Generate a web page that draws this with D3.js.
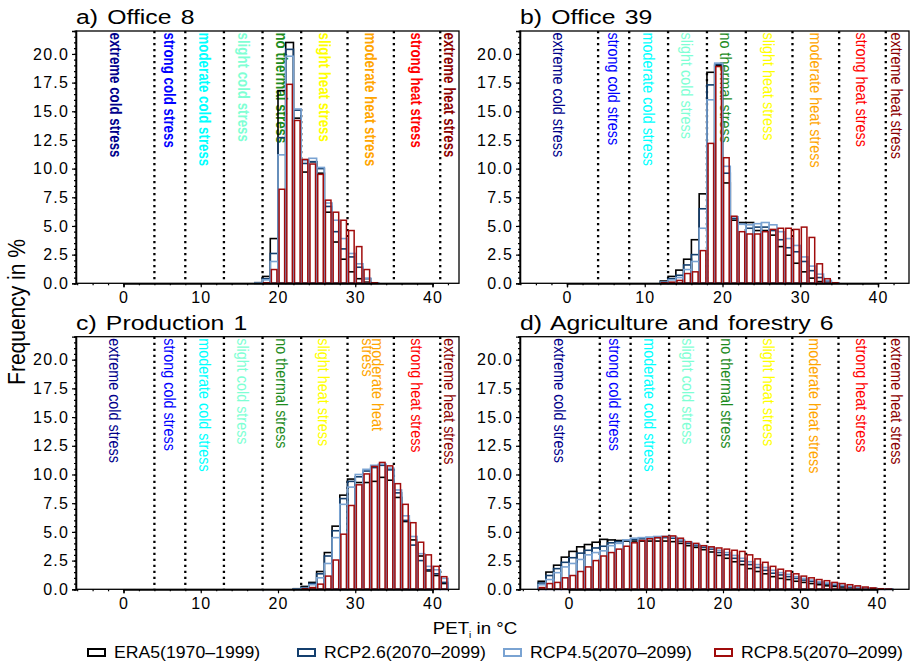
<!DOCTYPE html>
<html>
<head>
<meta charset="utf-8">
<script src="https://cdn.jsdelivr.net/npm/d3@7"></script>
<style>
body { margin: 0; background: #fff; }
text { font-family: "Liberation Sans", Arial, sans-serif; }
</style>
</head>
<body>
<script>
// bins are 1 degree wide, start values below
var binStart = [-4,-3,-2,-1,0,1,2,3,4,5,6,7,8,9,10,11,12,13,14,15,16,17,18,19,20,
                21,22,23,24,25,26,27,28,29,30,31,32,33,34,35,36,37,38,39,40,41];

var seriesNames = ["ERA5(1970\u20131999)", "RCP2.6(2070\u20132099)", "RCP4.5(2070\u20132099)", "RCP8.5(2070\u20132099)"];
var seriesColors = ["#000000", "#143f6e", "#7aa3d2", "#a00c0c"];

var classBreaks = [4, 8, 13, 18, 23, 29, 35, 41];
var classNames = ["extreme cold stress", "strong cold stress", "moderate cold stress", "slight cold stress",
                  "no thermal stress", "slight heat stress", "moderate heat stress", "strong heat stress",
                  "extreme heat stress"];
var classColors = ["#00008b", "#0000ff", "#00ffff", "#7fffd4", "#1e8c1e", "#ffff00", "#ffa500", "#ff0000", "#8b0000"];

var yTicks = [0, 2.5, 5, 7.5, 10, 12.5, 15, 17.5, 20];
var xTicks = [0, 10, 20, 30, 40];

var panelTitles = ["a) Office 8", "b) Office 39", "c) Production 1", "d) Agriculture and forestry 6"];

// frequency in % per bin (ERA5, RCP2.6, RCP4.5, RCP8.5)
var office8Era = [0,0,0,0,0,0,0,0,0,0,0,0,0,0,0,0,0,0,0,0,0,
                  0.05,0.6,3.9,16.8,21.0,14.4,9.7,10.6,9.6,6.2,3.6,2.1,1.0,0.4,0.1,0,0,0,0,0,0,0,0,0,0];
var office8R26 = [0,0,0,0,0,0,0,0,0,0,0,0,0,0,0,0,0,0,0,0,0,
                  0.05,0.4,2.6,12.7,20.4,15.1,10.45,10.6,10.0,6.7,4.5,3.0,2.3,1.4,0.4,0.03,0,0,0,0,0,0,0,0,0];
var office8R45 = [0,0,0,0,0,0,0,0,0,0,0,0,0,0,0,0,0,0,0,0,0,
                  0.03,0.3,1.9,11.2,19.8,15.2,10.7,10.9,10.1,7.0,5.5,3.9,2.6,1.7,0.45,0.03,0,0,0,0,0,0,0,0,0];
var office8R85 = [0,0,0,0,0,0,0,0,0,0,0,0,0,0,0,0,0,0,0,0,0,
                  0,0.05,1.2,8.2,17.35,14.2,10.8,10.4,9.5,7.25,6.2,5.5,4.6,3.2,1.2,0.05,0,0,0,0,0,0,0,0,0];

var office39Era = [0,0,0,0,0,0,0,0,0,0,0,0,0,0,0,0,
                   0.2,0.6,1.15,2.1,3.8,7.8,18.4,19.0,8.75,5.5,5.3,5.3,4.6,4.6,4.2,3.2,2.45,1.75,1.0,0.45,0.15,0.05,0,0,0,0,0,0,0,0];
var office39R26 = [0,0,0,0,0,0,0,0,0,0,0,0,0,0,0,0,
                   0.1,0.4,0.7,1.6,2.5,6.5,17.3,19.1,9.6,5.65,5.15,4.8,4.9,4.9,4.6,3.8,3.1,2.75,1.9,1.1,0.5,0.1,0.02,0,0,0,0,0,0,0];
var office39R45 = [0,0,0,0,0,0,0,0,0,0,0,0,0,0,0,0,
                   0.1,0.3,0.5,1.2,1.9,4.8,16.0,19.2,10.2,5.8,5.15,5.1,5.2,5.3,5.1,4.5,3.9,3.3,2.3,1.5,0.8,0.25,0.03,0,0,0,0,0,0,0];
var office39R85 = [0,0,0,0,0,0,0,0,0,0,0,0,0,0,0,0,
                   0.05,0.1,0.25,0.85,1.0,2.85,12.2,18.9,10.95,5.85,4.5,4.3,4.3,4.5,4.7,4.8,4.8,4.7,4.9,4.0,1.7,0.4,0.05,0,0,0,0,0,0,0];

var production1Era = [0,0,0,0,0,0,0,0,0,0,0,0,0,0,0,0,0,0,0,0,0,0,0,0,0,0,
                      0.05,0.25,0.6,1.55,3.2,5.5,8.2,9.6,9.3,9.3,9.4,9.75,9.5,8.0,5.9,4.3,2.9,1.6,1.2,0.5];
var production1R26 = [0,0,0,0,0,0,0,0,0,0,0,0,0,0,0,0,0,0,0,0,0,0,0,0,0,0,
                      0.03,0.15,0.5,1.35,2.9,5.1,7.9,9.4,9.8,10.3,10.6,10.8,10.4,8.4,6.0,3.85,2.5,1.7,1.35,0.6];
var production1R45 = [0,0,0,0,0,0,0,0,0,0,0,0,0,0,0,0,0,0,0,0,0,0,0,0,0,0,
                      0.02,0.1,0.4,1.0,2.25,4.5,7.4,8.9,10.0,10.45,10.8,10.9,10.55,8.65,6.4,4.6,3.1,2.0,1.7,0.95];
var production1R85 = [0,0,0,0,0,0,0,0,0,0,0,0,0,0,0,0,0,0,0,0,0,0,0,0,0,0,
                      0,0.05,0.15,0.45,1.15,2.55,4.8,7.3,9.1,10.05,10.7,11.05,10.75,9.2,7.4,5.8,4.1,3.0,2.0,1.1];

var agriculture6Era = [0.7,1.5,2.1,2.8,3.3,3.7,3.9,4.1,4.35,4.3,4.25,4.2,4.2,4.2,4.2,4.2,4.2,4.15,4.0,3.8,3.65,3.45,3.25,
                       2.95,2.7,2.4,2.15,1.8,1.55,1.35,1.1,0.95,0.85,0.7,0.6,0.5,0.4,0.3,0.25,0.2,0.15,0.1,0.07,0.05,0.03,0.02];
var agriculture6R26 = [0.55,1.2,1.8,2.35,2.75,3.15,3.4,3.6,3.75,4.05,4.15,4.25,4.35,4.4,4.45,4.5,4.5,4.45,4.2,4.0,3.8,3.65,3.5,
                       3.2,3.0,2.7,2.45,2.15,1.9,1.65,1.4,1.25,1.1,0.95,0.8,0.7,0.55,0.45,0.35,0.28,0.2,0.14,0.09,0.06,0.03,0.01];
var agriculture6R45 = [0.4,0.85,1.45,1.95,2.25,2.6,3.0,3.2,3.35,3.8,4.0,4.3,4.45,4.5,4.55,4.6,4.6,4.55,4.3,4.1,3.9,3.75,3.6,
                       3.4,3.2,2.95,2.7,2.4,2.15,1.9,1.65,1.45,1.3,1.1,0.95,0.8,0.65,0.55,0.45,0.35,0.25,0.18,0.12,0.07,0.04,0.02];
var agriculture6R85 = [0.15,0.5,0.6,1.0,1.2,1.55,1.95,2.5,2.9,3.2,3.5,3.75,4.05,4.25,4.4,4.5,4.6,4.65,4.45,4.15,4.0,3.8,3.7,
                       3.6,3.5,3.4,3.3,3.0,2.65,2.35,2.0,1.75,1.6,1.35,1.15,1.0,0.85,0.75,0.6,0.5,0.4,0.3,0.2,0.12,0.05,0.02];

var panelData = [
  [office8Era, office8R26, office8R45, office8R85],
  [office39Era, office39R26, office39R45, office39R85],
  [production1Era, production1R26, production1R45, production1R85],
  [agriculture6Era, agriculture6R26, agriculture6R45, agriculture6R85]
];

// pixel layout of the four panels
var panels = [
  {left: 76,  right: 459, top: 31,    bottom: 283.3, x0: 123.5, x40: 432.5, bold: true},
  {left: 520, right: 909, top: 31,    bottom: 283.3, x0: 567,   x40: 878,   bold: false},
  {left: 76,  right: 459, top: 336.7, bottom: 589.3, x0: 123.5, x40: 432.5, bold: false},
  {left: 520, right: 909, top: 336.7, bottom: 589.3, x0: 569,   x40: 877,   bold: false}
];

var svg = d3.select("body")
    .append("svg")
    .attr("width", 919)
    .attr("height", 663);

panels.forEach(function(p, pi) {

    var x = d3.scaleLinear().domain([0, 40]).range([p.x0, p.x40]);
    var xMin = x.invert(p.left), xMax = x.invert(p.right);
    var y = d3.scaleLinear().domain([0, 22]).range([p.bottom, p.top]);

    var g = svg.append("g");

    // title
    g.append("text")
        .attr("transform", "translate(" + p.left + "," + (p.top - 7) + ") scale(1.18,1)")
        .style("font-size", "21px")
        .style("word-spacing", "2px")
        .text(panelTitles[pi]);

    // class boundaries
    g.selectAll(".brk")
        .data(classBreaks)
        .enter().append("line")
        .attr("x1", function(d) { return x(d); })
        .attr("x2", function(d) { return x(d); })
        .attr("y1", p.top)
        .attr("y2", p.bottom)
        .style("stroke", "#000")
        .style("stroke-width", 2.3)
        .style("stroke-dasharray", "2.3,3.7");

    // class labels, centred in each class range
    var edges = [xMin].concat(classBreaks).concat([xMax]);
    classNames.forEach(function(name, ci) {
        var cx = x((edges[ci] + edges[ci + 1]) / 2);
        var lines = (pi === 2 && ci === 6) ? ["moderate heat", "stress"] : [name];
        var t = g.append("text")
            .attr("transform", "translate(" + cx + "," + (p.top + 1.5) + ") scale(1.2,1) rotate(90)")
            .style("font-size", p.bold ? "13.3px" : "14.4px")
            .style("font-weight", p.bold ? "bold" : "normal")
            .style("fill", classColors[ci]);
        lines.forEach(function(l, li) {
            t.append("tspan")
                .attr("x", 0)
                .attr("y", (lines.length === 1 ? 0.35 : (li === 0 ? -0.1 : 0.52)) + "em")
                .text(l);
        });
    });

    // histogram outlines
    panelData[pi].forEach(function(vals, si) {
        var inset = si === 3 ? 1.1 : 0;
        g.selectAll(".bar" + si)
            .data(vals)
            .enter().append("rect")
            .attr("x", function(d, i) { return x(binStart[i]) + inset; })
            .attr("width", function(d, i) { return x(binStart[i] + 1) - x(binStart[i]) - 2 * inset; })
            .attr("y", function(d) { return y(d); })
            .attr("height", function(d) { return y(0) - y(d); })
            .style("fill", "none")
            .style("stroke", seriesColors[si])
            .style("stroke-width", si === 3 ? 1.5 : 1.6);
    });

    // frame
    g.append("rect")
        .attr("x", p.left).attr("y", p.top)
        .attr("width", p.right - p.left).attr("height", p.bottom - p.top)
        .style("fill", "none").style("stroke", "#000").style("stroke-width", 1.3);

    // y axis
    var yAxis = d3.axisLeft(y).tickValues(yTicks).tickSize(4).tickPadding(3)
        .tickFormat(d3.format(".1f"));
    var ya = g.append("g").attr("transform", "translate(" + p.left + ",0)").call(yAxis);
    var yMinor = d3.axisLeft(y).tickValues(d3.range(0, 22.01, 0.5)).tickSize(2).tickFormat("");
    g.append("g").attr("transform", "translate(" + p.left + ",0)").call(yMinor);

    // x axis
    var xAxis = d3.axisBottom(x).tickValues(xTicks).tickSize(4).tickPadding(4).tickFormat(d3.format("d"));
    var xa = g.append("g").attr("transform", "translate(0," + p.bottom + ")").call(xAxis);
    var xMinor = d3.axisBottom(x).tickValues(d3.range(-6, 43, 2)).tickSize(2).tickFormat("");
    g.append("g").attr("transform", "translate(0," + p.bottom + ")").call(xMinor);

    g.selectAll(".domain").style("stroke", "#000").style("stroke-width", 1.3);
    g.selectAll(".tick line").style("stroke", "#000").style("stroke-width", 1.2);

    ya.selectAll(".tick text")
        .style("font-size", "16px")
        .style("font-family", "'Liberation Sans', Arial, sans-serif")
        .style("letter-spacing", "1.2px");
    xa.selectAll(".tick text")
        .style("font-size", "16px")
        .style("font-family", "'Liberation Sans', Arial, sans-serif")
        .style("letter-spacing", "1.2px");
});

// axis titles
svg.append("text")
    .attr("transform", "translate(25,312) rotate(-90) scale(1,1.15)")
    .attr("text-anchor", "middle")
    .style("font-size", "21px")
    .text("Frequency in %");

var xl = svg.append("text")
    .attr("transform", "translate(475,634) scale(1.1,1)")
    .attr("text-anchor", "middle")
    .style("font-size", "17px");
xl.append("tspan").text("PET");
xl.append("tspan").attr("dy", 4).style("font-size", "9px").text("i");
xl.append("tspan").attr("dy", -4).text(" in \u00b0C");

// legend
var legendX = [88, 298, 504, 715];
seriesNames.forEach(function(name, i) {
    svg.append("rect")
        .attr("x", legendX[i]).attr("y", 649)
        .attr("width", 17).attr("height", 7)
        .style("fill", "#fff")
        .style("stroke", seriesColors[i])
        .style("stroke-width", 2);
    svg.append("text")
        .attr("transform", "translate(" + (legendX[i] + 26) + ",658) scale(1.09,1)")
        .style("font-size", "16.2px")
        .text(name);
});
</script>
</body>
</html>
